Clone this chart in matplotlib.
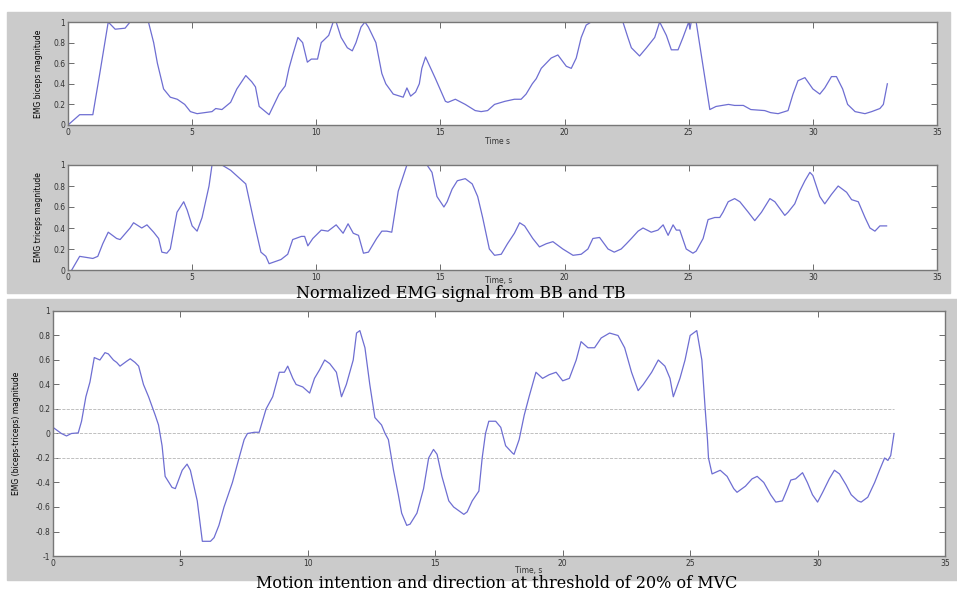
import numpy as np
import matplotlib.pyplot as plt
from matplotlib.patches import Rectangle

# ---- data ----------------------------------------------------------------
t_bic = [0.0, 0.47, 1.0, 1.28, 1.62, 1.9, 2.3, 2.5, 3.24, 3.45, 3.6, 3.85, 4.12,
         4.4, 4.7, 4.93, 5.2, 5.8, 5.95, 6.2, 6.55, 6.8, 7.16, 7.4, 7.55, 7.7,
         7.9, 8.1, 8.3, 8.5, 8.75, 8.9, 9.05, 9.26, 9.45, 9.64, 9.8, 10.05,
         10.2, 10.5, 10.68, 10.8, 11.0, 11.25, 11.45, 11.6, 11.8, 11.96, 12.1,
         12.4, 12.64, 12.8, 13.1, 13.5, 13.65, 13.8, 14.0, 14.15, 14.25, 14.4,
         14.8, 15.2, 15.3, 15.6, 16.0, 16.4, 16.64, 16.9, 17.18, 17.6, 17.98,
         18.25, 18.45, 18.7, 18.86, 19.06, 19.26, 19.46, 19.73, 20.07, 20.27,
         20.47, 20.67, 20.87, 21.07, 22.35, 22.55, 22.69, 23.02, 23.3, 23.63,
         23.83, 24.1, 24.3, 24.57, 24.77, 25.0, 25.05, 25.1, 25.3, 25.85, 26.1,
         26.6, 26.85, 27.2, 27.5, 28.06, 28.3, 28.6, 29.0, 29.2, 29.4, 29.68,
         30.0, 30.28, 30.48, 30.75, 30.95, 31.2, 31.4, 31.7, 32.1, 32.37, 32.7,
         32.84, 33.0]
emg_bic = [0.0, 0.1, 0.1, 0.5, 1.0, 0.93, 0.94, 1.0, 1.0, 0.8, 0.6, 0.35, 0.27,
           0.25, 0.2, 0.13, 0.11, 0.13, 0.16, 0.15, 0.22, 0.35, 0.48, 0.42, 0.37,
           0.18, 0.14, 0.1, 0.2, 0.3, 0.38, 0.55, 0.68, 0.85, 0.8, 0.61, 0.64,
           0.64, 0.8, 0.87, 1.0, 1.0, 0.85, 0.75, 0.72, 0.8, 0.95, 1.0, 0.95,
           0.8, 0.5, 0.4, 0.3, 0.27, 0.36, 0.28, 0.32, 0.4, 0.55, 0.66, 0.45,
           0.23, 0.22, 0.25, 0.2, 0.14, 0.13, 0.14, 0.2, 0.23, 0.25, 0.25, 0.3,
           0.4, 0.45, 0.55, 0.6, 0.65, 0.68, 0.57, 0.55, 0.65, 0.85, 0.97, 1.0,
           1.0, 0.85, 0.75, 0.67, 0.75, 0.85, 1.0, 0.87, 0.73, 0.73, 0.85, 1.0,
           0.93, 1.0, 1.0, 0.15, 0.18, 0.2, 0.19, 0.19, 0.15, 0.14, 0.12, 0.11,
           0.14, 0.3, 0.43, 0.46, 0.35, 0.3, 0.36, 0.47, 0.47, 0.35, 0.2, 0.13,
           0.11, 0.13, 0.16, 0.2, 0.4]

t_tri = [0.15, 0.47, 1.0, 1.2, 1.4, 1.62, 1.96, 2.1, 2.5, 2.64, 2.97, 3.18,
         3.45, 3.65, 3.78, 3.98, 4.12, 4.39, 4.66, 4.8, 5.0, 5.2, 5.4, 5.68,
         5.8, 6.2, 6.55, 7.16, 7.5, 7.77, 7.97, 8.1, 8.58, 8.85, 9.05, 9.4,
         9.53, 9.66, 9.86, 10.2, 10.47, 10.8, 11.08, 11.28, 11.49, 11.7, 11.9,
         12.1, 12.43, 12.64, 12.84, 13.04, 13.3, 13.65, 14.46, 14.66, 14.86,
         15.14, 15.27, 15.47, 15.68, 16.0, 16.28, 16.5, 16.7, 16.97, 17.18,
         17.45, 17.7, 17.98, 18.19, 18.39, 18.72, 18.99, 19.26, 19.53, 19.93,
         20.34, 20.67, 20.94, 21.14, 21.41, 21.75, 22.0, 22.28, 22.49, 22.69,
         22.96, 23.16, 23.49, 23.76, 23.97, 24.17, 24.37, 24.5, 24.64, 24.9,
         25.17, 25.3, 25.58, 25.78, 26.05, 26.25, 26.38, 26.59, 26.85, 27.06,
         27.4, 27.66, 27.93, 28.27, 28.47, 28.87, 29.0, 29.27, 29.47, 29.68,
         29.88, 30.0, 30.28, 30.48, 30.75, 31.02, 31.36, 31.56, 31.83, 32.1,
         32.3, 32.5, 32.7, 32.97]
emg_tri = [0.0, 0.13, 0.11, 0.13, 0.25, 0.36, 0.3, 0.29, 0.4, 0.45, 0.4, 0.43,
           0.36, 0.3, 0.17, 0.16, 0.2, 0.55, 0.65, 0.57, 0.42, 0.37, 0.5, 0.8,
           1.0, 1.0, 0.95, 0.82, 0.45, 0.17, 0.13, 0.06, 0.1, 0.15, 0.29, 0.32,
           0.32, 0.23, 0.3, 0.38, 0.37, 0.43, 0.35, 0.44, 0.35, 0.33, 0.16, 0.17,
           0.3, 0.37, 0.37, 0.36, 0.75, 1.0, 1.0, 0.93, 0.7, 0.6, 0.65, 0.77,
           0.85, 0.87, 0.82, 0.7, 0.5, 0.2, 0.14, 0.15, 0.25, 0.35, 0.45, 0.42,
           0.3, 0.22, 0.25, 0.27, 0.2, 0.14, 0.15, 0.2, 0.3, 0.31, 0.2, 0.17,
           0.2, 0.25, 0.3, 0.37, 0.4, 0.36, 0.38, 0.43, 0.33, 0.43, 0.38, 0.38,
           0.2, 0.16, 0.18, 0.3, 0.48, 0.5, 0.5, 0.55, 0.65, 0.68, 0.65, 0.55,
           0.47, 0.55, 0.68, 0.65, 0.52, 0.55, 0.63, 0.75, 0.85, 0.93, 0.9, 0.7,
           0.63, 0.72, 0.8, 0.74, 0.67, 0.65, 0.5, 0.4, 0.37, 0.42, 0.42]

t_diff = [0.0, 0.33, 0.53, 0.72, 0.99, 1.12, 1.29, 1.45, 1.62, 1.84, 2.04, 2.17,
          2.37, 2.5, 2.63, 2.89, 3.03, 3.22, 3.36, 3.55, 3.75, 4.01, 4.14, 4.28,
          4.4, 4.67, 4.8, 5.07, 5.26, 5.39, 5.66, 5.86, 6.18, 6.32, 6.51, 6.71,
          7.04, 7.3, 7.5, 7.63, 7.9, 8.09, 8.22, 8.36, 8.49, 8.62, 8.88, 9.08,
          9.21, 9.41, 9.54, 9.8, 10.07, 10.26, 10.46, 10.66, 10.86, 11.12, 11.32,
          11.51, 11.78, 11.91, 12.04, 12.24, 12.43, 12.63, 12.89, 13.03, 13.16,
          13.36, 13.55, 13.68, 13.88, 14.01, 14.28, 14.54, 14.74, 14.93, 15.07,
          15.26, 15.53, 15.72, 15.92, 16.12, 16.25, 16.45, 16.71, 16.84, 16.97,
          17.1, 17.37, 17.57, 17.76, 18.03, 18.09, 18.29, 18.49, 18.68, 18.95,
          19.21, 19.47, 19.74, 20.0, 20.26, 20.53, 20.72, 20.99, 21.25, 21.51,
          21.84, 22.17, 22.43, 22.7, 22.96, 23.16, 23.49, 23.75, 24.01, 24.21,
          24.34, 24.6, 24.8, 25.0, 25.26, 25.46, 25.59, 25.68, 25.72, 25.86,
          26.18, 26.45, 26.71, 26.84, 27.17, 27.43, 27.63, 27.89, 28.16, 28.36,
          28.62, 28.82, 28.95, 29.14, 29.41, 29.6, 29.8, 30.0, 30.2, 30.46,
          30.66, 30.86, 31.12, 31.32, 31.58, 31.71, 31.97, 32.24, 32.43, 32.63,
          32.76, 32.87, 33.0]
emg_diff = [0.05, 0.0, -0.02, 0.0, 0.005, 0.1, 0.3, 0.42, 0.62, 0.6, 0.66, 0.65,
            0.6, 0.58, 0.55, 0.59, 0.61, 0.58, 0.55, 0.4, 0.3, 0.15, 0.07, -0.1,
            -0.35, -0.44, -0.45, -0.3, -0.25, -0.3, -0.55, -0.88, -0.88, -0.85,
            -0.75, -0.6, -0.4, -0.2, -0.05, 0.0, 0.01, 0.01, 0.1, 0.2, 0.25, 0.3,
            0.5, 0.5, 0.55, 0.45, 0.4, 0.38, 0.33, 0.45, 0.52, 0.6, 0.57, 0.5,
            0.3, 0.4, 0.6, 0.82, 0.84, 0.7, 0.4, 0.13, 0.07, 0.0, -0.05, -0.3,
            -0.5, -0.65, -0.75, -0.74, -0.65, -0.45, -0.2, -0.13, -0.17, -0.35,
            -0.55, -0.6, -0.63, -0.66, -0.64, -0.55, -0.47, -0.2, 0.0, 0.1, 0.1,
            0.05, -0.1, -0.16, -0.17, -0.05, 0.15, 0.3, 0.5, 0.45, 0.48, 0.5,
            0.43, 0.45, 0.6, 0.75, 0.7, 0.7, 0.78, 0.82, 0.8, 0.7, 0.5, 0.35, 0.4,
            0.5, 0.6, 0.55, 0.45, 0.3, 0.45, 0.6, 0.8, 0.84, 0.6, 0.2, -0.05,
            -0.2, -0.33, -0.3, -0.35, -0.45, -0.48, -0.43, -0.37, -0.35, -0.4,
            -0.5, -0.56, -0.55, -0.45, -0.38, -0.37, -0.32, -0.4, -0.5, -0.56,
            -0.48, -0.37, -0.3, -0.33, -0.42, -0.5, -0.55, -0.56, -0.52, -0.4,
            -0.3, -0.2, -0.22, -0.18, 0.0]

thresholds = [0.2, 0.0, -0.2]

xticks = [0, 5, 10, 15, 20, 25, 30, 35]
yticks_top = [0, 0.2, 0.4, 0.6, 0.8, 1]
yticks_bot = [-1, -0.8, -0.6, -0.4, -0.2, 0, 0.2, 0.4, 0.6, 0.8, 1]

W, H = 957, 592
LINE = '#6e6ed2'
GRAY = '#cbcbcb'


def px_rect(l, t, r, b):
    return [l / W, 1 - b / H, (r - l) / W, (b - t) / H]


def style_axes(ax, yticks):
    ax.set_xlim(0, 35)
    ax.set_xticks(xticks)
    ax.set_xticklabels(['%g' % v for v in xticks])
    ax.set_yticks(yticks)
    ax.set_yticklabels(['%g' % v for v in yticks])
    ax.tick_params(direction='in', length=4, width=0.6, color='#555555',
                   labelsize=5.5, labelcolor='#333333', pad=2,
                   top=True, right=True)
    for sp in ax.spines.values():
        sp.set_color('#777777')
        sp.set_linewidth(1.0)


fig = plt.figure(figsize=(W / 100, H / 100), dpi=100)
fig.patch.set_facecolor('white')

# grey matlab figure backgrounds
fig.add_artist(Rectangle((7 / W, 1 - 293 / H), (950 - 7) / W, (293 - 12) / H,
                         transform=fig.transFigure, color=GRAY, zorder=0))
fig.add_artist(Rectangle((7 / W, 1 - 580 / H), (957 - 7) / W, (580 - 299) / H,
                         transform=fig.transFigure, color=GRAY, zorder=0))

# biceps
ax1 = fig.add_axes(px_rect(68, 22, 937, 125))
ax1.plot(t_bic, emg_bic, color=LINE, lw=0.9)
ax1.set_ylim(0, 1)
style_axes(ax1, yticks_top)
ax1.set_ylabel('EMG biceps magnitude', fontsize=5.5, labelpad=7)

# triceps
ax2 = fig.add_axes(px_rect(68, 165, 937, 270))
ax2.plot(t_tri, emg_tri, color=LINE, lw=0.9)
ax2.set_ylim(0, 1)
style_axes(ax2, yticks_top)
ax2.set_ylabel('EMG triceps magnitude', fontsize=5.5, labelpad=7)

# difference
ax3 = fig.add_axes(px_rect(53, 311, 945, 556))
for th in thresholds:
    ax3.plot([0, 33], [th, th], color='#b5b5b5', lw=0.6, ls='--')
ax3.plot(t_diff, emg_diff, color=LINE, lw=0.9)
ax3.set_ylim(-1, 1)
style_axes(ax3, yticks_bot)
ax3.set_ylabel('EMG (biceps-triceps) magnitude', fontsize=5.5, labelpad=10)

# axis labels placed as in the screenshot
fig.text(485 / W, 1 - 142 / H, 'Time s', fontsize=5.5, color='#333333',
         va='center')
fig.text(485 / W, 1 - 281 / H, 'Time, s', fontsize=5.5, color='#333333',
         va='center')
fig.text(515 / W, 1 - 571 / H, 'Time, s', fontsize=5.5, color='#333333',
         va='center')

# captions
fig.text(461 / W, 1 - 294 / H, 'Normalized EMG signal from BB and TB',
         family='DejaVu Serif', fontsize=11.5, ha='center', va='center')
fig.text(497 / W, 1 - 583 / H,
         'Motion intention and direction at threshold of 20% of MVC',
         family='DejaVu Serif', fontsize=11.5, ha='center', va='center')

plt.savefig('out.png', dpi=100)
